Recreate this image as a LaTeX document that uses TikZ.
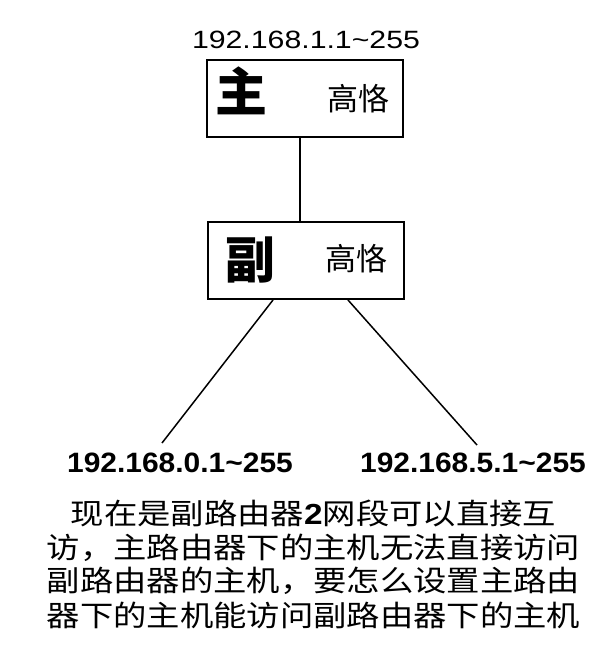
\documentclass[tikz,border=0pt]{standalone}
\usepackage{fontspec}
\setmainfont{Liberation Sans}
\newfontfamily\cjk{Noto Sans CJK SC}
\newfontfamily\cjkwide{Noto Sans CJK SC}[FakeStretch=1.15]
\newfontfamily\iptop{Liberation Sans}[FakeStretch=1.21]
\newfontfamily\ipbot{Liberation Sans}[FakeStretch=1.07]
\newfontfamily\latwide{Liberation Sans}[FakeStretch=1.15]
\tikzset{
  router/.style={draw, line width=2pt, minimum width=196pt, minimum height=77pt, inner sep=0pt},
  conn/.style={line width=1.5pt},
  txt/.style={inner sep=0pt, anchor=base},
  bigch/.style={txt, font=\fontsize{52}{52}\selectfont\cjk\bfseries},
  brand/.style={txt, font=\fontsize{31}{31}\selectfont\cjk},
  iptopst/.style={txt, font=\fontsize{25}{25}\selectfont\iptop},
  ipbotst/.style={txt, font=\fontsize{28}{28}\selectfont\ipbot\bfseries},
  para/.style={inner sep=0pt, anchor=base west, font=\fontsize{29}{29}\selectfont\cjkwide}
}
\begin{document}
\begin{tikzpicture}[x=1pt,y=-1pt]
\useasboundingbox (0,0) rectangle (612,649);
\node[iptopst] (iptop) at (306,48) {192.168.1.1\char"7E 255};
\node[router] (main) at (305,98.5) {};
\node[bigch] (zhu) at (241,111) {主};
\node[brand] (b1) at (358,110.5) {高恪};
\node[router] (sub) at (306,260.5) {};
\node[bigch, font=\fontsize{50}{50}\selectfont\cjk\bfseries] (fu) at (250,278.5) {副};
\node[brand] (b2) at (356,270) {高恪};
\coordinate (vx) at (300,0);
\draw[conn] (main.south -| vx) -- (sub.north -| vx);
\coordinate (lx) at (273,0);
\coordinate (rx) at (348,0);
\coordinate (lend) at (162,443);
\coordinate (rend) at (477,445);
\draw[conn] (sub.south -| lx) -- (lend);
\draw[conn] (sub.south -| rx) -- (rend);
\node[ipbotst] (ipl) at (180,472) {192.168.0.1\char"7E 255};
\node[ipbotst] (ipr) at (473,472) {192.168.5.1\char"7E 255};
\node[para] (p1) at (70.5,524) {现在是副路由器{\latwide\bfseries 2}网段可以直接互};
\node[para] (p2) at (46.5,558) {访，主路由器下的主机无法直接访问};
\node[para] (p3) at (46.5,591.5) {副路由器的主机，要怎么设置主路由};
\node[para] (p4) at (46.5,626) {器下的主机能访问副路由器下的主机};
\end{tikzpicture}
\end{document}
